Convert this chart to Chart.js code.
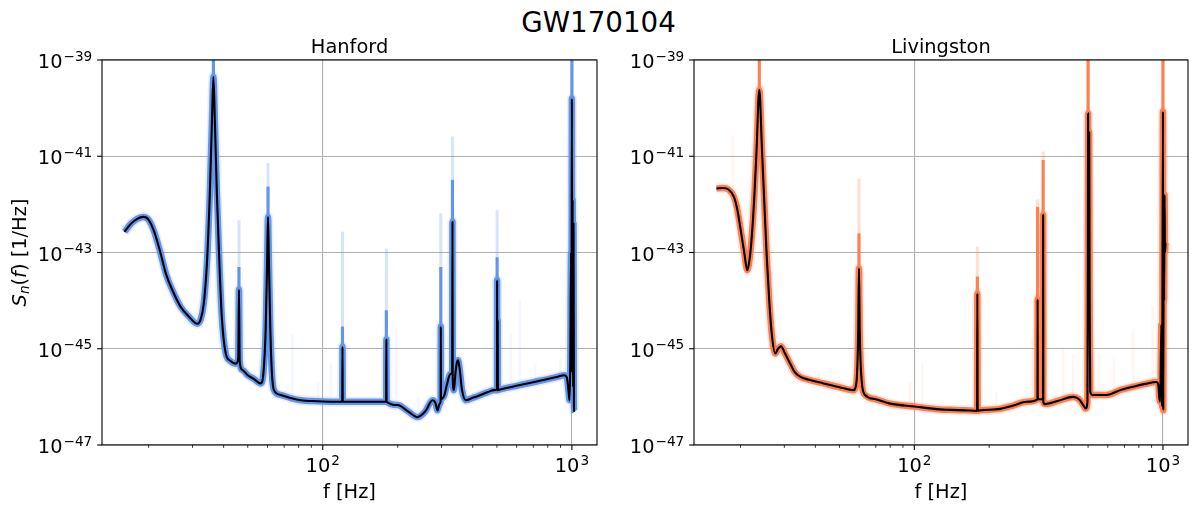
<!DOCTYPE html>
<html>
<head>
<meta charset="utf-8">
<title>GW170104</title>
<script src="https://cdn.jsdelivr.net/npm/chart.js@4.4.1/dist/chart.umd.min.js"></script>
<style>
    body { margin: 0; background: #fff; width: 1197px; height: 511px; overflow: hidden; font-family: "DejaVu Sans", sans-serif; }
    #title { position: absolute; left: 0; top: 9px; width: 1197px; text-align: center; font-size: 27.7px; line-height: 1; color: #000; }
    .panel { position: absolute; top: 0; }
</style>
</head>
<body>
<div id="title">GW170104</div>
<canvas id="hanford" class="panel" style="left:0" width="600" height="511"></canvas>
<canvas id="livingston" class="panel" style="left:600px" width="597" height="511"></canvas>
<script>
/* global Chart */

// Hanford median PSD: frequency [Hz] and log10 of S_n(f) [1/Hz]
const hanfordFreq = [16, 17, 18, 19, 20, 21, 22.3, 23.5, 24.9, 26.9, 29, 31.4, 32.3, 33.3, 34.3, 35.2, 35.9, 36.4, 36.9, 37.6,
    38.3, 39.3, 40.8, 42.5, 44.8, 45.8, 46.1, 46.4, 47.6, 50, 53, 56.3, 57.8, 59, 59.8, 60.3, 60.8, 61.6, 62.5, 63.7,
    67.8, 75, 81.6, 95, 110, 119.7, 120, 120.3, 150, 179.6, 180, 180.4, 199.5, 220, 240, 258, 275.8, 283, 289, 294,
    297.2, 297.7, 298.2, 303, 307, 315, 321, 326, 330.8, 331.6, 332.4, 336, 341, 345, 349.4, 355, 362, 375, 400, 430,
    460, 487.5, 500.3, 501, 501.8, 503.5, 504, 504.5, 520, 600, 705.8, 800, 880, 931, 955, 970, 978, 985, 992, 996,
    1000, 1003, 1007, 1011, 1015, 1019, 1024];
const hanfordMedian = [-42.57, -42.40, -42.30, -42.26, -42.32, -42.55, -43.00, -43.45, -43.78, -44.13, -44.33, -44.48, -44.40, -44.06, -43.20, -41.80, -40.30, -39.35, -40.30, -41.80,
    -42.95, -44.30, -45.10, -45.25, -45.31, -45.20, -43.77, -45.25, -45.44, -45.55, -45.63, -45.72, -45.50, -44.60, -43.20, -42.26, -43.20, -44.60, -45.50, -45.86,
    -45.96, -46.03, -46.07, -46.09, -46.10, -46.10, -44.96, -46.10, -46.10, -46.10, -44.81, -46.10, -46.17, -46.30, -46.42, -46.30, -46.07, -46.12, -46.28, -46.15,
    -46.10, -44.54, -46.05, -46.02, -45.98, -45.75, -45.58, -45.52, -45.50, -42.36, -45.60, -45.86, -45.50, -45.30, -45.24, -45.45, -45.85, -46.07, -46.02, -45.96,
    -45.90, -45.86, -45.85, -43.57, -45.86, -45.86, -44.40, -45.86, -45.84, -45.77, -45.69, -45.63, -45.58, -45.55, -45.60, -45.90, -46.07, -45.30, -43.00, -44.50,
    -39.80, -45.50, -41.90, -45.80, -42.40, -46.20, -46.31];

// Hanford lines: where the sample band rises above the median spike
const hanfordLineFreq = [36.4, 46.1, 60.3, 120, 180, 297.7, 331.6, 501, 995, 1000];
const hanfordLineBase = [-39.35, -43.77, -42.26, -44.96, -44.81, -44.54, -42.36, -43.57, -44.5, -39.8];
const hanfordLineTop = [-38.5, -43.3, -41.63, -44.54, -44.20, -43.30, -41.49, -43.10, -41.0, -38.5];
const hanfordLineFade = [-38.5, -42.33, -41.14, -42.57, -42.92, -42.19, -40.59, -42.12, -41.0, -38.5];

// Hanford faint lines seen only in a few samples
const hanfordFaintFreq = [44.8, 75.6, 96, 107.7, 197.5, 242, 569, 617, 712, 900, 975];
const hanfordFaintBase = [-45.31, -46.03, -46.09, -46.10, -46.17, -46.42, -45.80, -45.77, -45.69, -45.60, -46.0];
const hanfordFaintTop = [-44.6, -44.7, -45.7, -45.3, -44.57, -46.0, -44.7, -43.99, -45.3, -45.2, -44.34];

// Livingston median PSD
const livingstonFreq = [16, 17, 17.9, 18.8, 19.4, 19.95, 20.7, 21.3, 21.8, 22.2, 22.7, 23.2, 23.8, 24.4, 25.0, 25.5, 26.1, 26.7, 27.6, 28.3,
    29.1, 30.2, 31.7, 33, 34.7, 38, 43.2, 50, 56.9, 58.5, 59.5, 59.9, 60.3, 61.5, 63.4, 70, 79.9, 100, 126.8, 139,
    160, 178.8, 179.3, 179.8, 184, 221, 250, 283, 312.7, 313.2, 313.7, 329.2, 329.7, 330.2, 335, 380, 435, 460, 475, 489,
    497, 499, 500, 501, 503, 505, 507, 510, 520, 592, 680, 758, 850, 941, 958, 966, 975, 985, 992, 1000,
    1003, 1007, 1011, 1015, 1019, 1024];
const livingstonMedian = [-41.67, -41.66, -41.69, -41.84, -42.10, -42.47, -43.00, -43.37, -43.10, -42.67, -41.90, -40.87, -39.62, -40.87, -42.10, -43.09, -44.00, -44.68, -45.10, -45.00,
    -44.95, -45.10, -45.31, -45.48, -45.58, -45.65, -45.72, -45.80, -45.86, -45.70, -44.60, -43.33, -44.60, -45.70, -45.96, -46.05, -46.14, -46.20, -46.26, -46.27,
    -46.28, -46.29, -43.85, -46.29, -46.28, -46.25, -46.18, -46.10, -46.05, -43.97, -46.05, -46.05, -42.22, -46.10, -46.15, -46.08, -46.00, -46.05, -46.15, -46.24,
    -46.10, -42.50, -40.11, -42.20, -44.50, -40.50, -44.00, -45.90, -45.96, -45.96, -45.85, -45.79, -45.73, -45.69, -45.75, -46.00, -46.10, -44.50, -46.20, -40.07,
    -46.28, -42.30, -44.00, -41.80, -43.00, -42.80];

const livingstonLineFreq = [23.8, 59.9, 179.3, 313.2, 329.7, 500, 1000];
const livingstonLineBase = [-39.62, -43.33, -43.85, -43.97, -42.22, -40.11, -40.07];
const livingstonLineTop = [-38.5, -42.6, -43.5, -42.05, -41.08, -38.5, -38.5];
const livingstonLineFade = [-38.5, -41.46, -42.88, -41.9, -40.9, -38.5, -38.5];

const livingstonFaintFreq = [18.6, 41.4, 49.8, 96, 107.7, 214, 297, 397, 435, 553, 635, 758, 910];
const livingstonFaintBase = [-41.7, -45.68, -45.8, -46.19, -46.22, -46.25, -46.07, -46.08, -46.0, -45.96, -45.88, -45.79, -45.70];
const livingstonFaintTop = [-40.56, -45.5, -45.55, -45.7, -45.3, -45.9, -44.82, -45.0, -45.1, -45.1, -45.2, -44.6, -44.1];

// axes
const xMin = 13.0;
const xMax = 1261;
const yTickExponents = [-47, -45, -43, -41, -39];
const xTickExponents = [2, 3];
const xMinorTicks = [20, 30, 40, 50, 60, 70, 80, 90, 200, 300, 400, 500, 600, 700, 800, 900];

const BASE_FONT = '19.4px "DejaVu Sans"';
const SUP_FONT = '13.6px "DejaVu Sans"';

const toPoints = (freqs, logs) => freqs.map((f, i) => ({ x: f, y: Math.pow(10, logs[i]) }));

const segments = (freqs, bottoms, tops) => freqs.flatMap((f, i) => [
    { x: f, y: Math.pow(10, bottoms[i]) },
    { x: f, y: Math.pow(10, tops[i]) },
    { x: f, y: null }
]);

const strokeLine = (ctx, x1, y1, x2, y2) => {
    ctx.beginPath();
    ctx.moveTo(x1, y1);
    ctx.lineTo(x2, y2);
    ctx.stroke();
};

const drawPower = (ctx, exponent, x, baseline, align) => {
    const sup = (exponent < 0 ? '\u2212' : '') + Math.abs(exponent);
    ctx.font = BASE_FONT;
    const baseWidth = ctx.measureText('10').width;
    ctx.font = SUP_FONT;
    const supWidth = ctx.measureText(sup).width;
    const total = baseWidth + 1 + supWidth;
    const left = align === 'right' ? x - total : x - total / 2;
    ctx.textAlign = 'left';
    ctx.font = BASE_FONT;
    ctx.fillText('10', left, baseline);
    ctx.font = SUP_FONT;
    ctx.fillText(sup, left + baseWidth + 1, baseline - 7.5);
};

const drawYLabel = (ctx, x, y) => {
    const parts = [
        { text: 'S', font: 'italic ' + BASE_FONT, shift: 0 },
        { text: 'n', font: 'italic ' + SUP_FONT, shift: 3.5 },
        { text: '(', font: BASE_FONT, shift: 0 },
        { text: 'f', font: 'italic ' + BASE_FONT, shift: 0 },
        { text: ') [1/Hz]', font: BASE_FONT, shift: 0 }
    ];
    let total = 0;
    parts.forEach((part) => {
        ctx.font = part.font;
        part.width = ctx.measureText(part.text).width;
        total += part.width;
    });
    ctx.save();
    ctx.translate(x, y);
    ctx.rotate(-Math.PI / 2);
    ctx.textAlign = 'left';
    let cursor = -total / 2;
    parts.forEach((part) => {
        ctx.font = part.font;
        ctx.fillText(part.text, cursor, part.shift);
        cursor += part.width;
    });
    ctx.restore();
};

const axesDecor = {
    id: 'axesDecor',
    afterDraw(chart, args, opts) {
        const { ctx, chartArea: area, scales } = chart;
        ctx.save();
        ctx.strokeStyle = '#000';
        ctx.fillStyle = '#000';
        ctx.lineWidth = 1.1;
        ctx.strokeRect(area.left, area.top, area.right - area.left, area.bottom - area.top);
        ctx.textBaseline = 'alphabetic';

        yTickExponents.forEach((e) => {
            const py = scales.y.getPixelForValue(Math.pow(10, e));
            strokeLine(ctx, area.left - 4.9, py, area.left, py);
            drawPower(ctx, e, area.left - 9.8, py + 8.2, 'right');
        });
        xTickExponents.forEach((e) => {
            const px = scales.x.getPixelForValue(Math.pow(10, e));
            strokeLine(ctx, px, area.bottom, px, area.bottom + 4.9);
            drawPower(ctx, e, px, area.bottom + 27, 'center');
        });
        ctx.lineWidth = 0.8;
        xMinorTicks.forEach((v) => {
            const px = scales.x.getPixelForValue(v);
            strokeLine(ctx, px, area.bottom, px, area.bottom + 2.8);
        });

        const centerX = (area.left + area.right) / 2;
        ctx.font = BASE_FONT;
        ctx.textAlign = 'center';
        ctx.fillText(opts.title, centerX, 53);
        ctx.fillText('f [Hz]', centerX, 497.5);
        if (opts.yLabel) {
            drawYLabel(ctx, 25.5, (area.top + area.bottom) / 2);
        }
        ctx.restore();
    }
};

const buildChart = (canvasId, spec) => {
    const median = toPoints(spec.freq, spec.median);
    const lineStyle = { pointRadius: 0, fill: false, clip: 0, spanGaps: false };
    const curveStyle = { ...lineStyle, cubicInterpolationMode: 'monotone', borderJoinStyle: 'round' };

    return new Chart(document.getElementById(canvasId), {
        type: 'line',
        data: {
            datasets: [
                { ...curveStyle, data: median, borderColor: '#000', borderWidth: 2.1, order: 0 },
                { ...lineStyle, data: segments(spec.lineFreq, spec.lineBase, spec.lineTop), borderColor: spec.color, borderWidth: 3.2, order: 1 },
                { ...lineStyle, data: segments(spec.lineFreq, spec.lineTop, spec.lineFade), borderColor: spec.fade, borderWidth: 3, order: 2 },
                { ...curveStyle, data: median, borderColor: spec.color, borderWidth: 6.5, order: 3 },
                { ...curveStyle, data: median, borderColor: spec.halo, borderWidth: 10, order: 4 },
                { ...lineStyle, data: segments(spec.faintFreq, spec.faintBase, spec.faintTop), borderColor: spec.faint, borderWidth: 2.5, order: 5 }
            ]
        },
        options: {
            responsive: false,
            animation: false,
            events: [],
            layout: { padding: { left: 0, right: spec.padRight, top: 60, bottom: 0 } },
            plugins: {
                legend: { display: false },
                tooltip: { enabled: false },
                axesDecor: { title: spec.title, yLabel: spec.yLabel }
            },
            scales: {
                x: {
                    type: 'logarithmic',
                    min: xMin,
                    max: xMax,
                    ticks: { display: false },
                    border: { display: false },
                    grid: { color: '#b0b0b0', lineWidth: 1.1, drawTicks: false },
                    afterBuildTicks: (scale) => {
                        scale.ticks = xTickExponents.map((e) => ({ value: Math.pow(10, e) }));
                    },
                    afterFit: (scale) => {
                        scale.height = 66;
                    }
                },
                y: {
                    type: 'logarithmic',
                    min: Math.pow(10, -47),
                    max: Math.pow(10, -39),
                    ticks: { display: false },
                    border: { display: false },
                    grid: { color: '#b0b0b0', lineWidth: 1.1, drawTicks: false },
                    afterBuildTicks: (scale) => {
                        scale.ticks = yTickExponents.map((e) => ({ value: Math.pow(10, e) }));
                    },
                    afterFit: (scale) => {
                        scale.width = spec.axisWidth;
                    }
                }
            }
        },
        plugins: [axesDecor]
    });
};

buildChart('hanford', {
    title: 'Hanford',
    yLabel: true,
    axisWidth: 102,
    padRight: 3,
    freq: hanfordFreq,
    median: hanfordMedian,
    lineFreq: hanfordLineFreq,
    lineBase: hanfordLineBase,
    lineTop: hanfordLineTop,
    lineFade: hanfordLineFade,
    faintFreq: hanfordFaintFreq,
    faintBase: hanfordFaintBase,
    faintTop: hanfordFaintTop,
    color: '#6495ed',
    fade: 'rgba(100, 149, 237, 0.25)',
    halo: 'rgba(100, 149, 237, 0.15)',
    faint: 'rgba(100, 149, 237, 0.08)'
});

buildChart('livingston', {
    title: 'Livingston',
    yLabel: false,
    axisWidth: 94,
    padRight: 9,
    freq: livingstonFreq,
    median: livingstonMedian,
    lineFreq: livingstonLineFreq,
    lineBase: livingstonLineBase,
    lineTop: livingstonLineTop,
    lineFade: livingstonLineFade,
    faintFreq: livingstonFaintFreq,
    faintBase: livingstonFaintBase,
    faintTop: livingstonFaintTop,
    color: '#ff7f50',
    fade: 'rgba(255, 127, 80, 0.25)',
    halo: 'rgba(255, 127, 80, 0.15)',
    faint: 'rgba(255, 127, 80, 0.08)'
});
</script>
</body>
</html>
